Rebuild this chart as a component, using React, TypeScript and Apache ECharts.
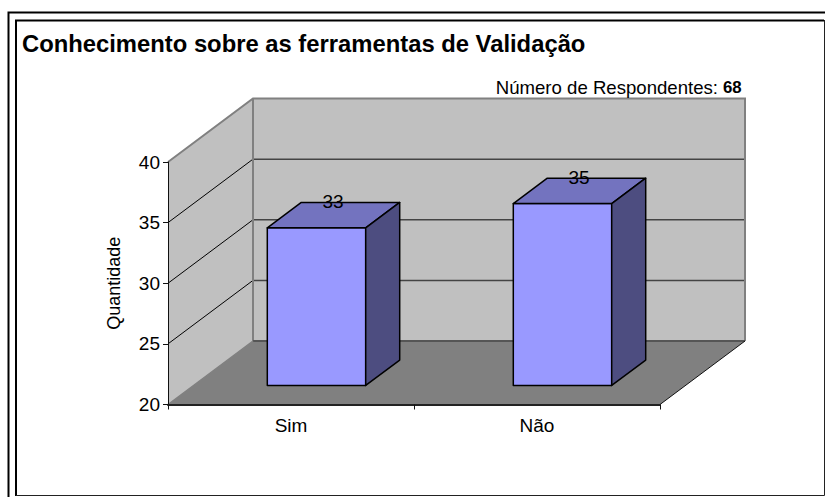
import React, { useEffect, useRef } from "react";
import * as echarts from "echarts";

const categories = ["Sim", "Não"];
const values = [33, 35];
const yTicks = [20, 25, 30, 35, 40];
const titleText = "Conhecimento sobre as ferramentas de Validação";
const respondentsLabel = "Número de Respondentes:";
const respondentsValue = "68";

const FONT = "'Liberation Sans', Arial, sans-serif";
const DX = 85;
const DY = -63.5;
const pt = (x: number, y: number, d: number) => [x + DX * d, y + DY * d];

export default function App() {
  const ref = useRef<HTMLDivElement>(null);
  useEffect(() => {
    document.body.style.margin = "0";
    const chart = echarts.init(ref.current!, null, { renderer: "svg" });
    chart.setOption({
      animation: false,
      backgroundColor: "#fff",
      textStyle: { fontFamily: FONT },
      grid: { left: 168, top: 162, width: 492, height: 242.5, containLabel: false },
      xAxis: {
        type: "category",
        data: categories,
        z: 10,
        axisLine: { show: true, lineStyle: { color: "#222", width: 2 } },
        axisTick: { show: true, alignWithLabel: false, length: 5, lineStyle: { color: "#111", width: 1 } },
        axisLabel: { color: "#000", fontSize: 19, fontFamily: FONT, margin: 11 },
        splitLine: { show: false },
      },
      yAxis: {
        type: "value",
        min: 20,
        max: 40,
        interval: 5,
        z: 10,
        name: "Quantidade",
        nameLocation: "middle",
        nameGap: 45,
        nameTextStyle: { color: "#000", fontSize: 18, fontFamily: FONT },
        axisLine: { show: true, lineStyle: { color: "#111", width: 1 } },
        axisTick: { show: true, length: 5, lineStyle: { color: "#111", width: 1 } },
        axisLabel: { color: "#000", fontSize: 19, fontFamily: FONT, margin: 8 },
        splitLine: { show: false },
      },
      graphic: [
        { type: "polyline", silent: true, z: 20, shape: { points: [[8.5, 497], [8.5, 12.5], [825, 12.5]] }, style: { fill: "none", stroke: "#000", lineWidth: 2 } },
        { type: "polyline", silent: true, z: 20, shape: { points: [[16, 496], [16, 20.5], [824, 20.5]] }, style: { fill: "none", stroke: "#000", lineWidth: 2 } },
        { type: "polyline", silent: true, z: 20, shape: { points: [[16, 495.5], [824.5, 495.5], [824.5, 20]] }, style: { fill: "none", stroke: "#222", lineWidth: 1 } },
        { type: "text", silent: true, z: 20, x: 22, y: 43, style: { text: titleText, fill: "#000", font: `bold 23.8px ${FONT}`, textAlign: "left", textVerticalAlign: "middle" } },
        { type: "text", silent: true, z: 20, x: 718, y: 87, style: { text: respondentsLabel, fill: "#000", font: `18.6px ${FONT}`, textAlign: "right", textVerticalAlign: "middle" } },
        { type: "text", silent: true, z: 20, x: 723, y: 87, style: { text: respondentsValue, fill: "#000", font: `bold 16.8px ${FONT}`, textAlign: "left", textVerticalAlign: "middle" } },
      ],
      series: [
        {
          type: "custom",
          z: 2,
          silent: true,
          data: [0],
          encode: { x: -1, y: -1 },
          renderItem: (params: any, api: any) => {
            const cs = params.coordSys;
            const l = cs.x, r = cs.x + cs.width, t = cs.y, b = cs.y + cs.height;
            const children: any[] = [];
            const poly = (pts: number[][], fill: string, stroke: string, lw = 1) =>
              children.push({ type: "polygon", shape: { points: pts }, style: { fill, stroke, lineWidth: lw } });
            const line = (pts: number[][], stroke: string, lw = 1) =>
              children.push({ type: "polyline", shape: { points: pts }, style: { fill: "none", stroke, lineWidth: lw } });
            poly([[l, t], pt(l, t, 1), pt(l, b, 1), [l, b]], "#C0C0C0", "none");
            poly([pt(l, t, 1), pt(r, t, 1), pt(r, b, 1), pt(l, b, 1)], "#C0C0C0", "none");
            poly([[l, b], pt(l, b, 1), pt(r, b, 1), [r, b]], "#808080", "none");
            yTicks.slice(1, -1).forEach((v) => {
              const y = api.coord([0, v])[1];
              line([[l, y], pt(l, y, 1)], "#000", 1);
              line([pt(l, y, 1), pt(r, y, 1)], "#444", 1.5);
            });
            line([[l, t], pt(l, t, 1), pt(r, t, 1), pt(r, b, 1)], "#808080", 2);
            line([pt(l, t, 1), pt(l, b, 1)], "#808080", 2);
            line([pt(l, b, 1), pt(r, b, 1)], "#555", 2);
            line([[l, b], pt(l, b, 1)], "#808080", 1.5);
            line([[r, b], pt(r, b, 1)], "#111", 1);
            return { type: "group", children };
          },
        },
        {
          type: "custom",
          z: 3,
          silent: true,
          data: values.map((v, i) => [i, v]),
          encode: { x: 0, y: 1 },
          renderItem: (params: any, api: any) => {
            const top = api.coord([api.value(0), api.value(1)]);
            const base = api.coord([api.value(0), 20]);
            const w = api.size([1, 0])[0] * 0.4;
            const x0 = top[0] - w / 2, x1 = top[0] + w / 2;
            const a = pt(x0, top[1], 0.3), b = pt(x1, top[1], 0.3);
            const c = pt(x1, top[1], 0.7), d = pt(x0, top[1], 0.7);
            const e = pt(x1, base[1], 0.3), f = pt(x0, base[1], 0.3), g = pt(x1, base[1], 0.7);
            const s = { stroke: "#000", lineWidth: 1.5, lineJoin: "round" };
            return {
              type: "group",
              children: [
                { type: "polygon", shape: { points: [a, b, e, f] }, style: { fill: "#9999FF", ...s } },
                { type: "polygon", shape: { points: [a, b, c, d] }, style: { fill: "#7373BF", ...s } },
                { type: "polygon", shape: { points: [b, c, g, e] }, style: { fill: "#4D4D80", ...s } },
                {
                  type: "text",
                  x: (a[0] + c[0]) / 2 - 0.5,
                  y: c[1] - 1,
                  style: { text: String(api.value(1)), fill: "#000", font: `19px ${FONT}`, textAlign: "center", textVerticalAlign: "middle" },
                },
              ],
            };
          },
        },
      ],
    });
    return () => chart.dispose();
  }, []);
  return <div ref={ref} style={{ width: 825, height: 497 }} />;
}
